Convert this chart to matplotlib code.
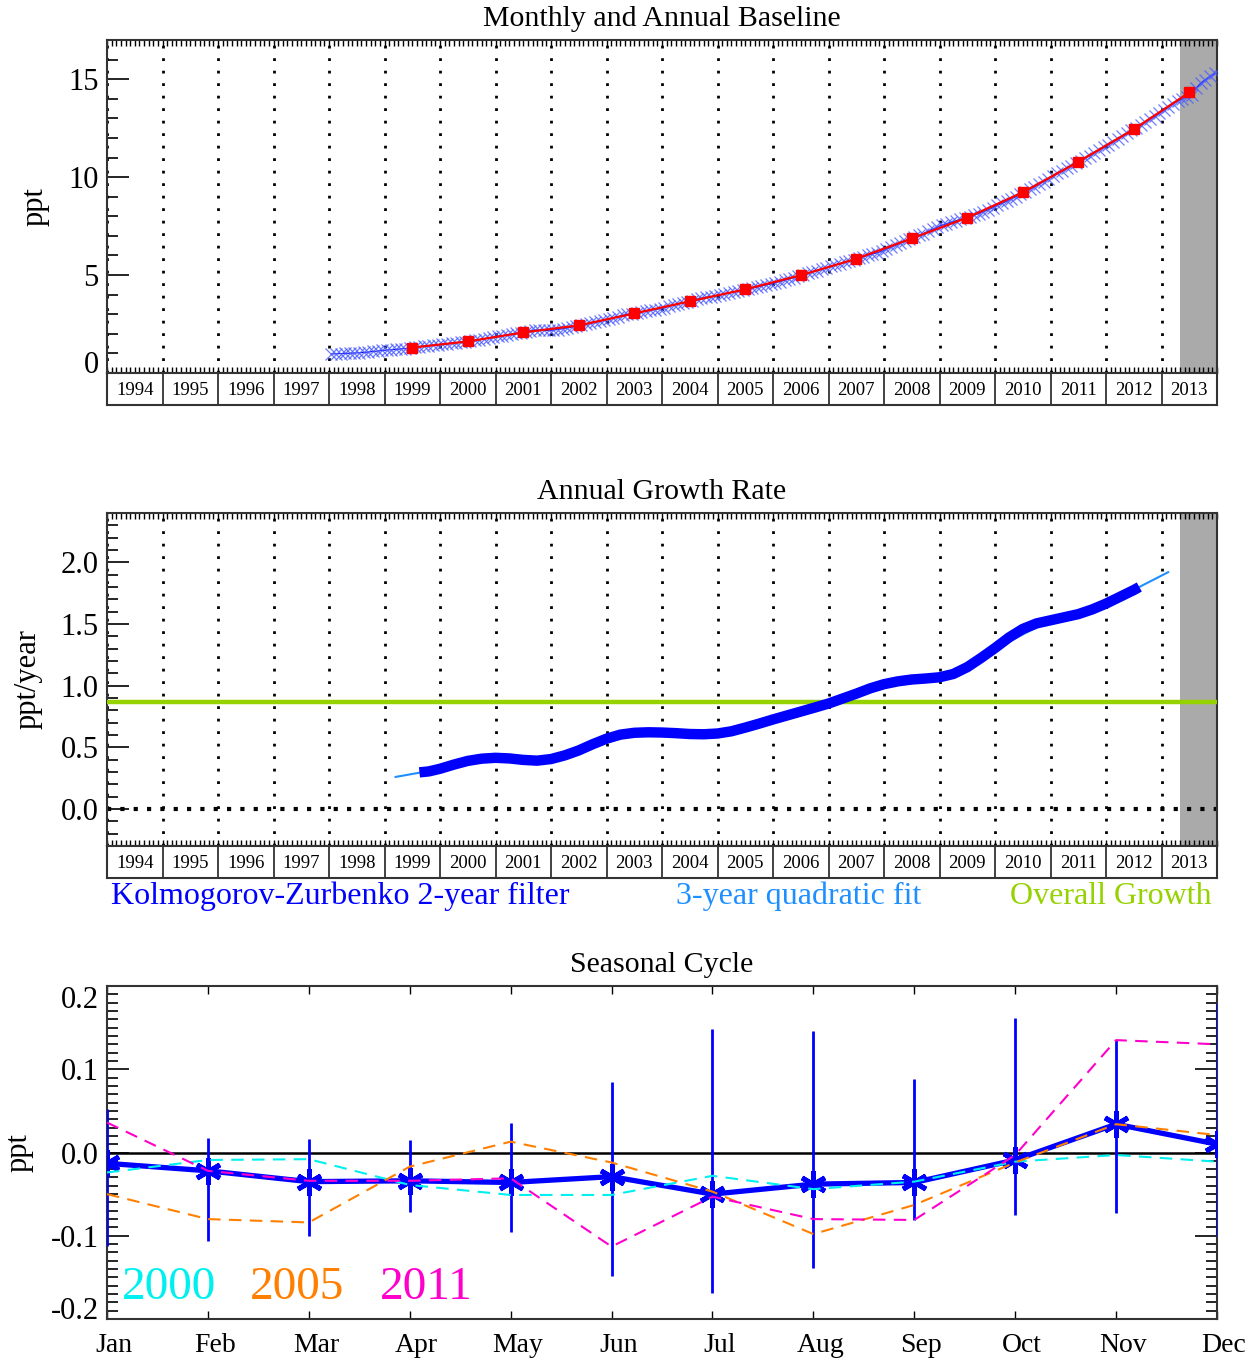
import numpy as np
import matplotlib
matplotlib.use("Agg")
import matplotlib.pyplot as plt
import matplotlib.transforms as mtransforms
from matplotlib.ticker import MultipleLocator, FormatStrFormatter

plt.rcParams['font.family'] = ['Liberation Serif', 'DejaVu Serif']
plt.rcParams['axes.unicode_minus'] = False

# ---- panel 1: monthly values (ppt), Jan 1998 .. Dec 2013 ----
monthly_ppt = [
    0.97, 0.98, 0.99, 1.00, 1.01, 1.02, 1.03, 1.05, 1.07, 1.10, 1.12, 1.15,   # 1998
    1.17, 1.19, 1.20, 1.23, 1.25, 1.28, 1.31, 1.33, 1.36, 1.38, 1.41, 1.44,   # 1999
    1.46, 1.48, 1.51, 1.54, 1.57, 1.60, 1.63, 1.66, 1.70, 1.74, 1.78, 1.82,   # 2000
    1.87, 1.90, 1.94, 1.98, 2.02, 2.06, 2.10, 2.16, 2.20, 2.19, 2.17, 2.17,   # 2001
    2.19, 2.22, 2.26, 2.30, 2.34, 2.39, 2.43, 2.48, 2.53, 2.58, 2.63, 2.69,   # 2002
    2.76, 2.82, 2.88, 2.94, 2.99, 3.03, 3.07, 3.11, 3.15, 3.20, 3.24, 3.28,   # 2003
    3.34, 3.40, 3.46, 3.52, 3.58, 3.64, 3.70, 3.76, 3.81, 3.86, 3.90, 3.94,   # 2004
    3.99, 4.03, 4.08, 4.13, 4.18, 4.23, 4.28, 4.33, 4.38, 4.44, 4.49, 4.54,   # 2005
    4.61, 4.67, 4.73, 4.80, 4.87, 4.94, 5.01, 5.08, 5.15, 5.22, 5.29, 5.36,   # 2006
    5.46, 5.52, 5.58, 5.65, 5.72, 5.79, 5.86, 5.93, 6.00, 6.07, 6.14, 6.21,   # 2007
    6.32, 6.42, 6.52, 6.62, 6.72, 6.82, 6.92, 7.02, 7.12, 7.23, 7.34, 7.45,   # 2008
    7.55, 7.62, 7.70, 7.77, 7.84, 7.91, 7.98, 8.06, 8.14, 8.23, 8.33, 8.44,   # 2009
    8.56, 8.66, 8.77, 8.88, 9.00, 9.12, 9.24, 9.37, 9.50, 9.63, 9.77, 9.91,   # 2010
    10.08, 10.20, 10.32, 10.45, 10.58, 10.71, 10.84, 10.97, 11.10, 11.24, 11.38, 11.52,  # 2011
    11.66, 11.80, 11.95, 12.10, 12.25, 12.39, 12.52, 12.66, 12.80, 12.95, 13.10, 13.25,  # 2012
    13.42, 13.58, 13.74, 13.88, 14.00, 14.10, 14.18, 14.55, 14.80, 14.98, 15.14, 15.30,  # 2013
]
first_year = 1998

annual_years = [1999.5, 2000.5, 2001.5, 2002.5, 2003.5, 2004.5, 2005.5, 2006.5,
                2007.5, 2008.5, 2009.5, 2010.5, 2011.5, 2012.5, 2013.5]
annual_ppt = [1.30, 1.61, 2.07, 2.43, 3.04, 3.66, 4.27, 4.99,
              5.83, 6.87, 7.93, 9.22, 10.78, 12.44, 14.32]

year_labels = list(range(1994, 2014))
shade_start = 2013.33

# ---- panel 2: growth rate (ppt/year) ----
kz_years = [1999.63, 1999.8, 2000.0, 2000.25, 2000.5, 2000.75, 2001.0, 2001.25,
            2001.5, 2001.75, 2002.0, 2002.25, 2002.5, 2002.75, 2003.0, 2003.25,
            2003.5, 2003.75, 2004.0, 2004.25, 2004.5, 2004.75, 2005.0, 2005.25,
            2005.5, 2005.75, 2006.0, 2006.25, 2006.5, 2006.75, 2007.0, 2007.25,
            2007.5, 2007.75, 2008.0, 2008.25, 2008.5, 2008.75, 2009.0, 2009.25,
            2009.5, 2009.75, 2010.0, 2010.25, 2010.5, 2010.75, 2011.0, 2011.25,
            2011.5, 2011.75, 2012.0, 2012.25, 2012.5, 2012.6]
kz_rate = [0.297, 0.305, 0.326, 0.360, 0.390, 0.408, 0.415, 0.410,
           0.398, 0.392, 0.405, 0.435, 0.475, 0.525, 0.570, 0.603,
           0.618, 0.622, 0.620, 0.615, 0.608, 0.606, 0.612, 0.630,
           0.660, 0.692, 0.726, 0.758, 0.790, 0.822, 0.855, 0.895,
           0.935, 0.978, 1.012, 1.035, 1.050, 1.058, 1.068, 1.095,
           1.150, 1.225, 1.305, 1.390, 1.460, 1.505, 1.530, 1.555,
           1.580, 1.618, 1.665, 1.720, 1.775, 1.800]

fit_years = [1999.2, 1999.7, 2000.5, 2001.0, 2001.7, 2002.5, 2003.4, 2005.0,
             2006.5, 2008.0, 2009.0, 2010.0, 2011.0, 2012.0, 2012.6, 2013.12]
fit_rate = [0.26, 0.30, 0.39, 0.415, 0.39, 0.48, 0.62, 0.61,
            0.79, 1.02, 1.07, 1.30, 1.53, 1.67, 1.80, 1.92]

overall_growth = 0.87

# ---- panel 3: seasonal cycle (ppt) ----
month_names = ['Jan', 'Feb', 'Mar', 'Apr', 'May', 'Jun',
               'Jul', 'Aug', 'Sep', 'Oct', 'Nov', 'Dec']
cycle_mean = [-0.013, -0.022, -0.035, -0.034, -0.036, -0.029,
              -0.050, -0.038, -0.036, -0.009, 0.034, 0.010]
cycle_hi = [0.052, 0.018, 0.016, 0.015, 0.036, 0.085,
            0.148, 0.146, 0.088, 0.161, 0.135, 0.179]
cycle_lo = [-0.112, -0.106, -0.100, -0.071, -0.095, -0.148,
            -0.169, -0.139, -0.081, -0.075, -0.073, -0.100]
cycle_2000 = [-0.024, -0.009, -0.008, -0.039, -0.051, -0.051,
              -0.028, -0.044, -0.035, -0.011, -0.003, -0.011]
cycle_2005 = [-0.050, -0.080, -0.084, -0.017, 0.013, -0.012,
              -0.047, -0.098, -0.063, -0.012, 0.034, 0.021]
cycle_2011 = [0.036, -0.022, -0.034, -0.034, -0.031, -0.113,
              -0.053, -0.080, -0.081, -0.003, 0.135, 0.130]

BLUE = '#0000ff'
LIGHTBLUE = '#1e8fff'
GREEN = '#96d200'
SPINE = '#333333'

W, H = 1255.0, 1362.0
fig = plt.figure(figsize=(W / 100, H / 100), dpi=100)


def box(l, t, r, b):
    return [l / W, 1 - b / H, (r - l) / W, (b - t) / H]


def style_spines(ax):
    for s in ax.spines.values():
        s.set_color(SPINE)
        s.set_linewidth(1.5)


def year_axes(ax):
    ax.set_xlim(1994, 2014)
    ax.xaxis.set_major_locator(MultipleLocator(1))
    ax.xaxis.set_minor_locator(MultipleLocator(1 / 12))
    ax.tick_params(axis='x', which='both', direction='in', top=True, bottom=True,
                   labelbottom=False, length=4, width=1, color='k')
    ax.grid(axis='x', which='major', color='k', linestyle=(0, (1, 3.5)), linewidth=2)
    ax.tick_params(axis='y', which='major', direction='in', length=16, width=1.2,
                   labelsize=22, pad=6)
    ax.tick_params(axis='y', which='minor', direction='in', length=8, width=1.2)
    ax.axvspan(shade_start, 2014, color='#aaaaaa', zorder=0.5, lw=0)
    style_spines(ax)


def year_box(ay):
    ay.set_xlim(1994, 2014)
    ay.set_ylim(0, 1)
    ay.set_xticks([])
    ay.set_yticks([])
    ay.vlines(year_labels[1:], 0, 1, color=SPINE, lw=1.3)
    for yr in year_labels:
        ay.text(yr + 0.5, 0.45, str(yr), ha='center', va='center', fontsize=13.5)
    style_spines(ay)


# ---------------- panel 1 ----------------
ax1 = fig.add_axes(box(107, 40, 1217, 373))
ay1 = fig.add_axes(box(107, 373, 1217, 405))
year_axes(ax1)
ax1.set_ylim(0, 17)
ax1.yaxis.set_major_locator(MultipleLocator(5))
ax1.yaxis.set_minor_locator(MultipleLocator(1))
ax1.yaxis.get_major_ticks()[1].label1.set_va('baseline')

t_month = first_year + (np.arange(len(monthly_ppt)) + 0.5) / 12
ax1.plot(t_month, monthly_ppt, color=BLUE, lw=0.8, zorder=3)
ax1.plot(t_month, monthly_ppt, ls='none', marker='x', ms=8, mew=0.9,
         color='#4a5cff', alpha=0.8, zorder=3)
ax1.plot(annual_years, annual_ppt, color='red', lw=1.6, marker='s', ms=7.5,
         zorder=4)
ax1.set_ylabel('ppt', fontsize=22)
ax1.yaxis.set_label_coords(-0.052, 0.5)
year_box(ay1)
fig.text(662 / W, 1 - 19 / H, 'Monthly and Annual Baseline', ha='center',
         va='center', fontsize=21.5)

# ---------------- panel 2 ----------------
ax2 = fig.add_axes(box(107, 513, 1217, 846))
ay2 = fig.add_axes(box(107, 846, 1217, 878))
year_axes(ax2)
ax2.set_ylim(-0.3, 2.4)
ax2.yaxis.set_major_locator(MultipleLocator(0.5))
ax2.yaxis.set_minor_locator(MultipleLocator(0.1))
ax2.yaxis.set_major_formatter(FormatStrFormatter('%.1f'))
ax2.axhline(0, color='k', linestyle=(0, (1, 2.2)), lw=3, zorder=2)
ax2.axhline(overall_growth, color=GREEN, lw=3.2, zorder=3)
ax2.plot(fit_years, fit_rate, color=LIGHTBLUE, lw=1.5, zorder=4)
ax2.plot(kz_years, kz_rate, color=BLUE, lw=7.5, zorder=5,
         solid_capstyle='butt', solid_joinstyle='round')
ax2.set_ylabel('ppt/year', fontsize=22)
ax2.yaxis.set_label_coords(-0.058, 0.5)
year_box(ay2)
fig.text(662 / W, 1 - 492 / H, 'Annual Growth Rate', ha='center', va='center',
         fontsize=21.5)

legend_y = 1 - 896 / H
fig.text(111 / W, legend_y, 'Kolmogorov-Zurbenko 2-year filter', color=BLUE,
         ha='left', va='center', fontsize=23)
fig.text(799 / W, legend_y, '3-year quadratic fit', color=LIGHTBLUE,
         ha='center', va='center', fontsize=23)
fig.text(1212 / W, legend_y, 'Overall Growth', color=GREEN,
         ha='right', va='center', fontsize=23)

# ---------------- panel 3 ----------------
ax3 = fig.add_axes(box(107, 986, 1217, 1319))
months = np.arange(1, 13)
ax3.set_xticks(months)
ax3.set_xticklabels([])
ax3.set_xlim(1, 12)
ax3.set_ylim(-0.2, 0.2)
ax3.tick_params(axis='x', which='major', direction='in', top=True, bottom=True,
                length=6, width=1)
# month names sit a little right of their tick, as in the original
lab_trans = mtransforms.blended_transform_factory(ax3.transData, ax3.transAxes)
for m, name in zip(months, month_names):
    ax3.text(m + 0.07, -0.042, name, transform=lab_trans, ha='center', va='top',
             fontsize=20, clip_on=False)
ax3.yaxis.set_major_locator(MultipleLocator(0.1))
ax3.yaxis.set_minor_locator(MultipleLocator(0.01))
ax3.yaxis.set_major_formatter(FormatStrFormatter('%.1f'))
ax3.tick_params(axis='y', which='major', direction='in', left=True, right=True,
                length=16, width=1.2, labelsize=22, pad=6)
ax3.tick_params(axis='y', which='minor', direction='in', left=True, right=True,
                length=8, width=1.2)
yt = ax3.yaxis.get_major_ticks()
yt[1].label1.set_va('baseline')
yt[-2].label1.set_va('top')
style_spines(ax3)

ax3.axhline(0, color='k', lw=1.8, zorder=2)
ax3.vlines(months, cycle_lo, cycle_hi, color=BLUE, lw=2, zorder=3)
ax3.plot(months, cycle_mean, color=BLUE, lw=3.8, marker=(6, 2, 0), ms=19,
         mew=3.5, zorder=4)
for vals, col in [(cycle_2000, '#00f0f0'), (cycle_2005, '#ff8000'),
                  (cycle_2011, '#ff00cc')]:
    ax3.plot(months, vals, color=col, lw=1.5, dashes=(6, 4), zorder=5)

ax3.text(0.0135, 0.094, '2000', color='#00f0f0', fontsize=34,
         transform=ax3.transAxes, ha='left', va='center')
ax3.text(0.1288, 0.094, '2005', color='#ff8000', fontsize=34,
         transform=ax3.transAxes, ha='left', va='center')
ax3.text(0.246, 0.094, '2011', color='#ff00cc', fontsize=34,
         transform=ax3.transAxes, ha='left', va='center')
ax3.set_ylabel('ppt', fontsize=22)
ax3.yaxis.set_label_coords(-0.066, 0.5)
fig.text(662 / W, 1 - 965 / H, 'Seasonal Cycle', ha='center', va='center',
         fontsize=21.5)

fig.savefig('out.png', dpi=100)
